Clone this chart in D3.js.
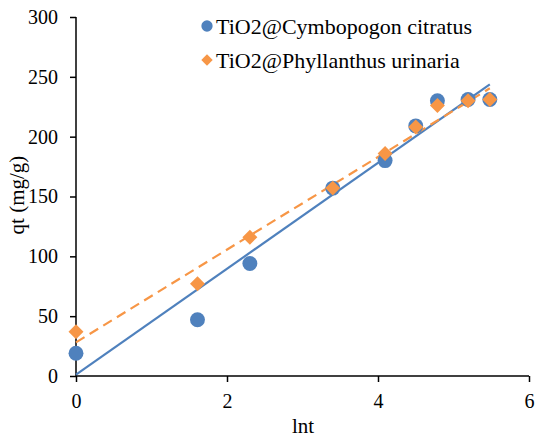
<!DOCTYPE html>
<html lang="en">
<head>
    <meta charset="UTF-8">
    <title>qt vs lnt</title>
    <script src="https://d3js.org/d3.v7.min.js"></script>
    <style>
        body { margin: 0; background: #fff; }
        svg text { font-family: "Liberation Serif", "Times New Roman", serif !important; fill: #000; }
        .axis path, .axis line { stroke: #000; stroke-width: 1.5; }
        .axis text { font-size: 20px; }
    </style>
</head>
<body>
    <div id="chart"></div>
    <script>
        // Data
        const lnt = [0, 1.609, 2.303, 3.401, 4.094, 4.5, 4.787, 5.193, 5.481];
        const qtCymbopogon = [19, 47, 94, 157, 180, 209, 230, 231, 231];
        const qtPhyllanthus = [37, 77, 116, 157, 186, 208, 226, 230, 231];
        const seriesNames = ["TiO2@Cymbopogon citratus", "TiO2@Phyllanthus urinaria"];
        const xTicks = [0, 2, 4, 6];
        const yTicks = [0, 50, 100, 150, 200, 250, 300];

        const W = 537, H = 442;
        const margin = {top: 17, right: 8, bottom: 66, left: 76};
        const width = W - margin.left - margin.right;
        const height = H - margin.top - margin.bottom;
        const serif = "'Liberation Serif', 'Times New Roman', serif";

        const svg = d3.select("#chart").append("svg")
            .attr("width", W).attr("height", H)
            .attr("font-family", serif);
        const g = svg.append("g")
            .attr("transform", `translate(${margin.left},${margin.top})`);

        const x = d3.scaleLinear().domain([0, 6]).range([0, width]);
        const y = d3.scaleLinear().domain([0, 300]).range([height, 0]);

        // axes
        g.append("g").attr("class", "axis")
            .attr("transform", `translate(0,${height})`)
            .call(d3.axisBottom(x).tickValues(xTicks).tickSize(6).tickPadding(12).tickFormat(d3.format("d")))
            .attr("font-family", serif).attr("font-size", 20);
        g.append("g").attr("class", "axis")
            .call(d3.axisLeft(y).tickValues(yTicks).tickSize(6).tickPadding(12).tickFormat(d3.format("d")))
            .attr("font-family", serif).attr("font-size", 20);
        g.selectAll(".axis .domain").attr("d", function() {
            return d3.select(this.parentNode).attr("transform")
                ? `M0,0H${width}` : `M0,0V${height}`;
        });

        // axis titles
        svg.append("text")
            .attr("x", 303).attr("y", 433)
            .attr("text-anchor", "middle").style("font-size", "21px")
            .text("lnt");
        svg.append("text")
            .attr("transform", "translate(24,195) rotate(-90)")
            .attr("text-anchor", "middle").style("font-size", "21px")
            .text("qt (mg/g)");

        // linear trendline (least squares)
        function fit(xs, ys) {
            const mx = d3.mean(xs), my = d3.mean(ys);
            let sxy = 0, sxx = 0;
            xs.forEach((v, i) => { sxy += (v - mx) * (ys[i] - my); sxx += (v - mx) ** 2; });
            const b = sxy / sxx;
            return {b: b, a: my - b * mx};
        }

        const series = [
            {name: seriesNames[0], ys: qtCymbopogon, color: "#4f81bd", shape: d3.symbolCircle, size: 175, rot: 0, dash: null},
            {name: seriesNames[1], ys: qtPhyllanthus, color: "#f79646", shape: d3.symbolSquare, size: 112, rot: 45, dash: "10,6"}
        ];

        series.forEach(s => {
            const f = fit(lnt, s.ys);
            const x0 = d3.min(lnt), x1 = d3.max(lnt);
            g.append("line")
                .attr("x1", x(x0)).attr("y1", y(f.a + f.b * x0))
                .attr("x2", x(x1)).attr("y2", y(f.a + f.b * x1))
                .attr("stroke", s.color).attr("stroke-width", 2.2)
                .attr("stroke-dasharray", s.dash);
        });

        series.forEach(s => {
            g.selectAll(null).data(lnt).enter().append("path")
                .attr("transform", (d, i) => `translate(${x(d)},${y(s.ys[i])}) rotate(${s.rot})`)
                .attr("d", d3.symbol().type(s.shape).size(s.size))
                .attr("fill", s.color);
        });

        // legend
        const legend = svg.append("g").attr("transform", "translate(207,26)");
        series.forEach((s, i) => {
            const row = legend.append("g").attr("transform", `translate(0,${i * 34})`);
            row.append("path")
                .attr("transform", `rotate(${s.rot})`)
                .attr("d", d3.symbol().type(s.shape).size(s.rot ? 65 : 100))
                .attr("fill", s.color);
            row.append("text")
                .attr("x", 9).attr("y", 8)
                .style("font-size", "22px")
                .text(s.name);
        });
    </script>
</body>
</html>
